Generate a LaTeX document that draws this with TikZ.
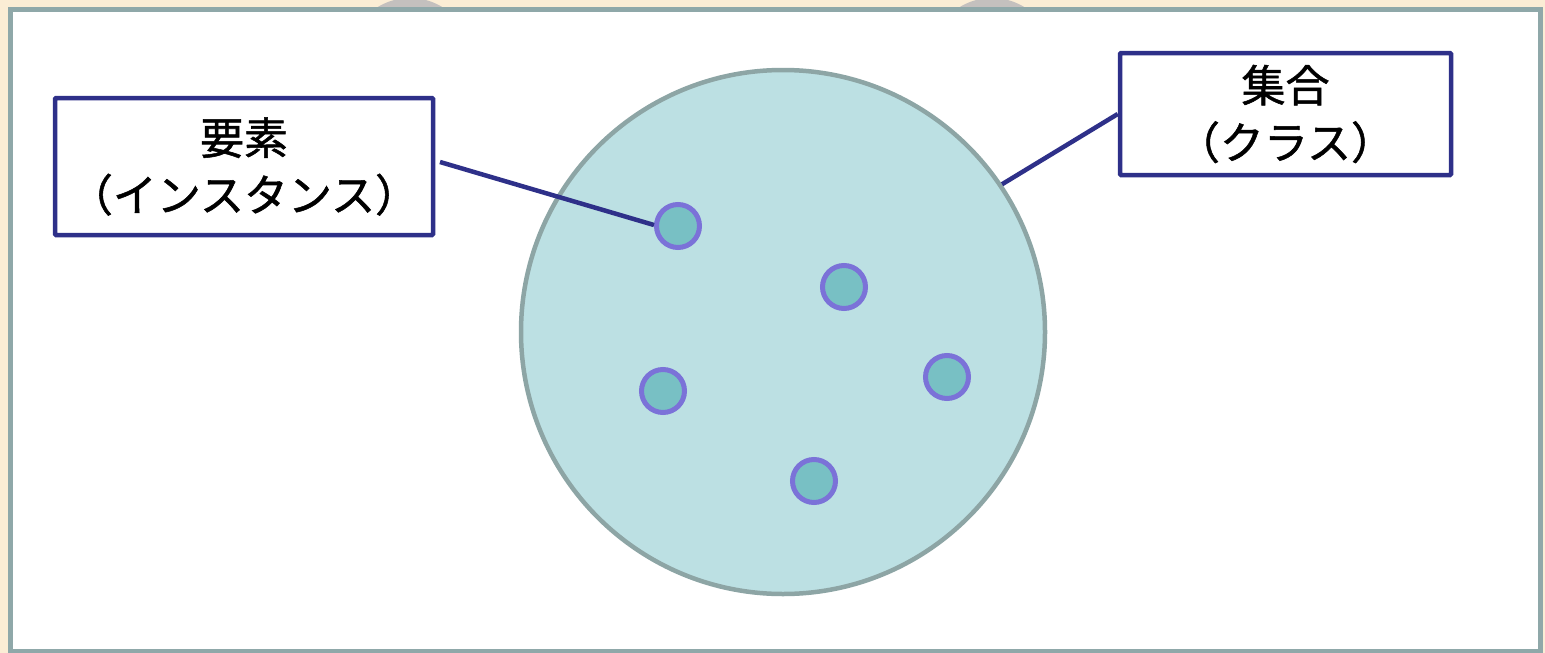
\documentclass[tikz,border=0pt]{standalone}
\usepackage{fontspec}
\newfontfamily\jpfont[FakeBold=1.2]{Noto Sans CJK JP}
\definecolor{bgbeige}{HTML}{FBEDD5}
\definecolor{panelborder}{HTML}{8FA8A9}
\definecolor{blobgrey}{HTML}{C4C0BE}
\definecolor{setfill}{HTML}{BCE0E3}
\definecolor{setborder}{HTML}{8DA5A5}
\definecolor{elemfill}{HTML}{78C0C4}
\definecolor{elemborder}{HTML}{7B72D8}
\definecolor{navy}{HTML}{2E3089}
\begin{document}
\begin{tikzpicture}[x=1pt,y=-1pt,
  labelbox/.style={draw=navy,line width=4.5pt,fill=white,rounded corners=1pt,
    font=\jpfont\fontsize{44}{57}\selectfont,align=center,inner sep=0pt},
  element/.style={circle,draw=elemborder,fill=elemfill,line width=5pt,
    minimum size=43pt,inner sep=0pt},
  pointer/.style={draw=navy,line width=4.5pt}]
\useasboundingbox (0,0) rectangle (1545,653);
\fill[bgbeige] (0,0) rectangle (1545,653);
\fill[blobgrey] (410,60) ellipse (62 and 62);
\fill[blobgrey] (992,60) ellipse (62 and 62);
\draw[panelborder,fill=white,line width=5.5pt] (10.5,9.5) rectangle (1540.5,652);
% set
\node[circle,draw=setborder,fill=setfill,line width=4.5pt,minimum size=524pt,inner sep=0pt] (set) at (783,332) {};
% elements
\node[element] (e1) at (678,226) {};
\node[element] (e2) at (844,287) {};
\node[element] (e3) at (663,391) {};
\node[element] (e4) at (947,377) {};
\node[element] (e5) at (814,481) {};
% label boxes
\node[labelbox,minimum width=378pt,minimum height=137pt] (lbl1) at (244,166.5) {要素\\（インスタンス）};
\node[labelbox,minimum width=331pt,minimum height=122pt] (lbl2) at (1285.5,114) {集合\\（クラス）};
% pointers
\coordinate (p1) at (440,162);
\draw[pointer] (p1) -- (e1.west |- 0,225);
\draw[pointer] (lbl2.west) -- (set.34);
\end{tikzpicture}
\end{document}
